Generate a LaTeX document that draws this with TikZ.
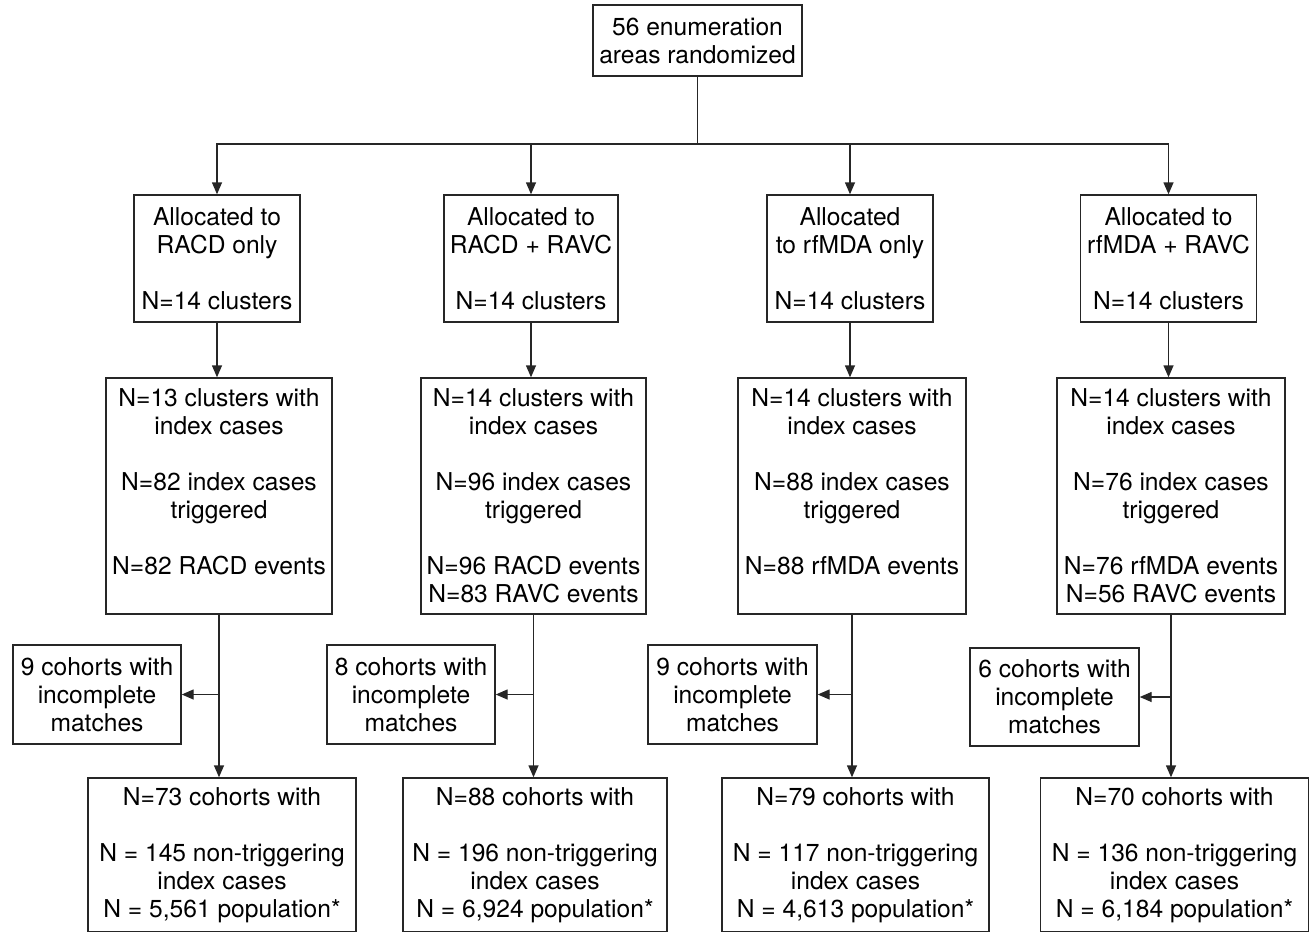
\documentclass[tikz,border=0pt]{standalone}
\usepackage{fontspec}
\setmainfont{TeX Gyre Heros}
\usetikzlibrary{arrows.meta, positioning, calc}

\begin{document}
\begin{tikzpicture}[x=0.5pt, y=-0.5pt, >={Triangle[length=6pt,width=5pt]},
  box/.style={draw=black!85, line width=0.7pt, align=center, inner sep=0pt,
              font=\fontsize{12.3}{14}\selectfont},
  link/.style={draw=black!85, line width=0.7pt}]
  \useasboundingbox (0,0) rectangle (1314,932);
  % randomisation
  \node[box, minimum width=104.5pt, minimum height=35.5pt] (rand) at (697.5,40.5)
    {56 enumeration\\areas randomized};
  % allocation arms
  \node[box, minimum width=83pt, minimum height=63.5pt] (arm1) at (217,258.5)
    {Allocated to\\RACD only\\[14pt]N=14 clusters};
  \node[box, minimum width=87pt, minimum height=63.5pt] (arm2) at (531,258.5)
    {Allocated to\\RACD + RAVC\\[14pt]N=14 clusters};
  \node[box, minimum width=83pt, minimum height=63.5pt] (arm3) at (850,258.5)
    {Allocated\\to rfMDA only\\[14pt]N=14 clusters};
  \node[box, minimum width=87.75pt, minimum height=63.5pt] (arm4) at (1168.5,258.5)
    {Allocated to\\rfMDA + RAVC\\[14pt]N=14 clusters};
  % index cases and events
  \node[box, minimum width=113pt, minimum height=118pt] (idx1) at (219,496)
    {N=13 clusters with\\index cases\\[14pt]N=82 index cases\\triggered\\[14pt]N=82 RACD events\\\mbox{}};
  \node[box, minimum width=112.5pt, minimum height=118pt] (idx2) at (533.5,496)
    {N=14 clusters with\\index cases\\[14pt]N=96 index cases\\triggered\\[14pt]N=96 RACD events\\N=83 RAVC events};
  \node[box, minimum width=114pt, minimum height=118pt] (idx3) at (852,496)
    {N=14 clusters with\\index cases\\[14pt]N=88 index cases\\triggered\\[14pt]N=88 rfMDA events\\\mbox{}};
  \node[box, minimum width=114pt, minimum height=118pt] (idx4) at (1171,496)
    {N=14 clusters with\\index cases\\[14pt]N=76 index cases\\triggered\\[14pt]N=76 rfMDA events\\N=56 RAVC events};
  % incomplete matches
  \node[box, minimum width=84pt, minimum height=49.5pt] (drop1) at (97,694.5)
    {9 cohorts with\\incomplete\\matches};
  \node[box, minimum width=84pt, minimum height=49.5pt] (drop2) at (411,694.5)
    {8 cohorts with\\incomplete\\matches};
  \node[box, minimum width=84.5pt, minimum height=49.5pt] (drop3) at (732.5,694.5)
    {9 cohorts with\\incomplete\\matches};
  \node[box, minimum width=84.5pt, minimum height=49pt] (drop4) at (1054.5,697)
    {6 cohorts with\\incomplete\\matches};
  % cohorts
  \node[box, minimum width=134pt, minimum height=77pt] (coh1) at (222,855)
    {N=73 cohorts with\\[14pt]N = 145 non-triggering\\index cases\\N = 5,561 population*};
  \node[box, minimum width=132pt, minimum height=77pt] (coh2) at (535,855)
    {N=88 cohorts with\\[14pt]N = 196 non-triggering\\index cases\\N = 6,924 population*};
  \node[box, minimum width=133.5pt, minimum height=77pt] (coh3) at (855.5,855)
    {N=79 cohorts with\\[14pt]N = 117 non-triggering\\index cases\\N = 4,613 population*};
  \node[box, minimum width=134pt, minimum height=77pt] (coh4) at (1174.5,855)
    {N=70 cohorts with\\[14pt]N = 136 non-triggering\\index cases\\N = 6,184 population*};
  % connectors
  \coordinate (split) at (rand.south |- 0,144);
  \draw[link] (rand) -- (split);
  \foreach \i in {1,...,4}{
    \draw[link,->] (split) -| (arm\i);
    \draw[link,->] (arm\i) -- (arm\i.south |- idx\i.north);
    \draw[link,->] (idx\i.south) -- (idx\i.south |- coh\i.north);
    \draw[link,->] (idx\i.south |- drop\i.east) -- (drop\i);
  }
\end{tikzpicture}
\end{document}
